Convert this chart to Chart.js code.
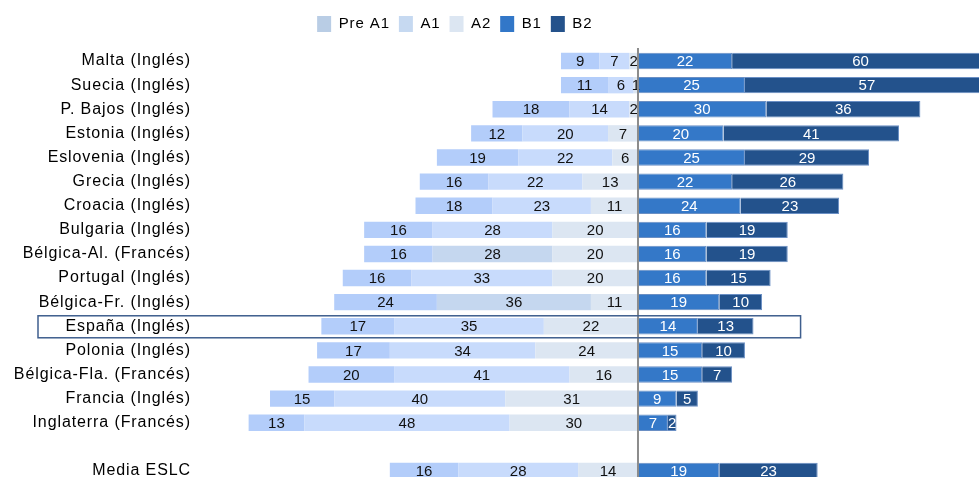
<!DOCTYPE html>
<html>
<head>
<meta charset="utf-8">
<script src="https://cdn.jsdelivr.net/npm/chart.js@4.4.1/dist/chart.umd.min.js"></script>
<style>
  html, body { margin: 0; padding: 0; background: #fff; overflow: hidden; }
  canvas { display: block; }
</style>
</head>
<body>
<canvas id="chart" width="979" height="483"></canvas>
<script>
// % de alumnos por nivel del MCER (primera lengua evaluada)
const countries = ['Malta (Inglés)', 'Suecia (Inglés)', 'P. Bajos (Inglés)', 'Estonia (Inglés)',
  'Eslovenia (Inglés)', 'Grecia (Inglés)', 'Croacia (Inglés)', 'Bulgaria (Inglés)',
  'Bélgica-Al. (Francés)', 'Portugal (Inglés)', 'Bélgica-Fr. (Inglés)', 'España (Inglés)',
  'Polonia (Inglés)', 'Bélgica-Fla. (Francés)', 'Francia (Inglés)', 'Inglaterra (Francés)',
  '', 'Media ESLC'];
const preA1 = [9, 11, 18, 12, 19, 16, 18, 16, 16, 16, 24, 17, 17, 20, 15, 13, null, 16];
const a1    = [7, 6, 14, 20, 22, 22, 23, 28, 28, 33, 36, 35, 34, 41, 40, 48, null, 28];
const a2    = [2, 1, 2, 7, 6, 13, 11, 20, 20, 20, 11, 22, 24, 16, 31, 30, null, 14];
const b1    = [22, 25, 30, 20, 25, 22, 24, 16, 16, 16, 19, 14, 15, 15, 9, 7, null, 19];
const b2    = [60, 57, 36, 41, 29, 26, 23, 19, 19, 15, 10, 13, 10, 7, 5, 2, null, 23];

const legendOrder = ['Pre A1', 'A1', 'A2', 'B1', 'B2'];
const legendColors = {
  'Pre A1': '#b9cde5', 'A1': '#c6d9f1', 'A2': '#dce6f2', 'B1': '#3277c8', 'B2': '#24528b'
};
const greyA1Rows = ['Bélgica-Al. (Francés)', 'Bélgica-Fr. (Inglés)'];
const highlightRow = 'España (Inglés)';

const neg = arr => arr.map(v => v == null ? null : -v);

Chart.defaults.font.family = '"Liberation Sans", Arial, sans-serif';
Chart.defaults.color = '#000';

// legend: fixed height and shifted a bit to the left like the original
const legendBox = {
  id: 'legendBox',
  beforeInit(chart) {
    const fit = chart.legend.fit;
    chart.legend.fit = function () {
      fit.call(this);
      this.height = 49;
    };
  },
  afterLayout(chart) {
    const lg = chart.legend;
    lg.left -= 41; lg.right -= 41;
    lg.top += 7; lg.bottom += 7;
  }
};

// the labels in the original look slightly wider
const wideText = {
  id: 'wideText',
  beforeDraw(chart) { chart.ctx.letterSpacing = '0.9px'; }
};

const overlays = {
  id: 'overlays',
  afterDatasetsDraw(chart) {
    const ctx = chart.ctx;
    const xS = chart.scales.x, yS = chart.scales.y;
    ctx.save();
    ctx.letterSpacing = '0px';

    // numbers inside the bars
    ctx.font = '15px "Liberation Sans", Arial, sans-serif';
    ctx.textAlign = 'center';
    ctx.textBaseline = 'middle';
    chart.data.datasets.forEach((ds, i) => {
      chart.getDatasetMeta(i).data.forEach((bar, j) => {
        const v = ds.data[j];
        if (v == null) return;
        const p = bar.getCenterPoint();
        ctx.fillStyle = v < 0 ? '#111' : '#fff';
        ctx.fillText(String(Math.abs(v)), p.x, p.y + 1);
      });
    });

    // zero line
    const x0 = xS.getPixelForValue(0);
    ctx.strokeStyle = '#8c8c8c';
    ctx.lineWidth = 2;
    ctx.beginPath();
    ctx.moveTo(x0, chart.chartArea.top - 1);
    ctx.lineTo(x0, chart.chartArea.bottom);
    ctx.stroke();

    // frame around Spain
    const yc = yS.getPixelForValue(countries.indexOf(highlightRow));
    const xr = xS.getPixelForValue(38);
    ctx.strokeStyle = '#3f5f8e';
    ctx.lineWidth = 1.5;
    ctx.strokeRect(38, yc - 10.5, xr - 38, 22);
    ctx.restore();
  }
};

const ctx = document.getElementById('chart').getContext('2d');
new Chart(ctx, {
  type: 'bar',
  data: {
    labels: countries,
    datasets: [
      { label: 'A2', data: neg(a2), backgroundColor: '#dce6f2' },
      { label: 'A1', data: neg(a1),
        backgroundColor: countries.map(c => greyA1Rows.includes(c) ? '#c5d7ef' : '#c8dbfc') },
      { label: 'Pre A1', data: neg(preA1), backgroundColor: '#b3cdfa' },
      { label: 'B1', data: b1, backgroundColor: '#3478c8', borderColor: '#6a8fc4', borderWidth: 1 },
      { label: 'B2', data: b2, backgroundColor: '#23528c', borderColor: '#6a8fc4', borderWidth: 1 }
    ]
  },
  options: {
    indexAxis: 'y',
    responsive: false,
    animation: false,
    layout: { padding: 0 },
    datasets: { bar: { barPercentage: 0.68, categoryPercentage: 1 } },
    scales: {
      x: { stacked: true, min: -103.3, max: 79.7, display: false },
      y: {
        stacked: true,
        grid: { display: false, drawTicks: false },
        border: { display: false },
        ticks: { font: { size: 16 }, color: '#000', padding: 5, autoSkip: false },
        afterFit(scale) {
          scale.width = 196;
          scale.paddingTop = 0;
          scale.paddingBottom = 0;
        }
      }
    },
    plugins: {
      tooltip: { enabled: false },
      legend: {
        position: 'top',
        labels: {
          boxWidth: 14,
          boxHeight: 16,
          padding: 9,
          font: { size: 15 },
          color: '#000',
          sort: (a, b) => legendOrder.indexOf(a.text) - legendOrder.indexOf(b.text),
          generateLabels(chart) {
            return Chart.defaults.plugins.legend.labels.generateLabels(chart).map(item => {
              item.fillStyle = legendColors[item.text];
              item.lineWidth = 0;
              item.strokeStyle = 'transparent';
              return item;
            });
          }
        }
      }
    }
  },
  plugins: [legendBox, wideText, overlays]
});
</script>
</body>
</html>
